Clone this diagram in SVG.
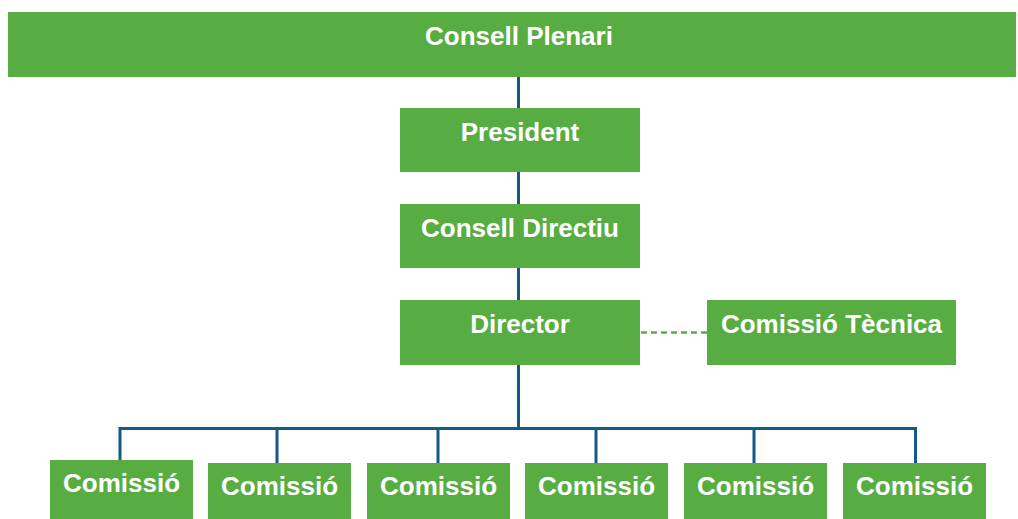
<svg xmlns="http://www.w3.org/2000/svg" width="1018" height="519" viewBox="0 0 1018 519">
<style>
.box{fill:#58ad42}
.t{fill:#fff;font-family:"Liberation Sans",Arial,sans-serif;font-weight:bold;font-size:26px;text-anchor:middle}
.ln{stroke:#135b87;stroke-width:3;fill:none}
.dash{stroke:#58ad42;stroke-width:2.5;stroke-dasharray:6 4;fill:none}
</style>
<rect width="1018" height="519" fill="#fff"/>
<g id="connectors">
<path class="ln" d="M518.5 77V108M518.5 172V204M518.5 268V300M518.5 365V428.5M120 460V428.5H915.5V463M277 428.5V463M438 428.5V463M596 428.5V463M754 428.5V463"/>
<path class="dash" d="M641 332.5H707"/>
</g>
<g id="consell-plenari"><rect class="box" x="8" y="12" width="1008" height="65"/><text class="t" x="519" y="45">Consell Plenari</text></g>
<g id="president"><rect class="box" x="400" y="108" width="240" height="64"/><text class="t" x="520" y="141">President</text></g>
<g id="consell-directiu"><rect class="box" x="400" y="204" width="240" height="64"/><text class="t" x="520" y="237">Consell Directiu</text></g>
<g id="director"><rect class="box" x="400" y="300" width="240" height="65"/><text class="t" x="520" y="333">Director</text></g>
<g id="comissio-tecnica"><rect class="box" x="707" y="300" width="249" height="65"/><text class="t" x="831.5" y="333">Comissió Tècnica</text></g>
<g id="comissio-1"><rect class="box" x="50" y="460" width="143" height="59"/><text class="t" x="121.5" y="492">Comissió</text></g>
<g id="comissio-2"><rect class="box" x="208" y="463" width="143" height="56"/><text class="t" x="279.5" y="495">Comissió</text></g>
<g id="comissio-3"><rect class="box" x="367" y="463" width="143" height="56"/><text class="t" x="438.5" y="495">Comissió</text></g>
<g id="comissio-4"><rect class="box" x="525" y="463" width="143" height="56"/><text class="t" x="596.5" y="495">Comissió</text></g>
<g id="comissio-5"><rect class="box" x="684" y="463" width="143" height="56"/><text class="t" x="755.5" y="495">Comissió</text></g>
<g id="comissio-6"><rect class="box" x="843" y="463" width="143" height="56"/><text class="t" x="914.5" y="495">Comissió</text></g>
</svg>
